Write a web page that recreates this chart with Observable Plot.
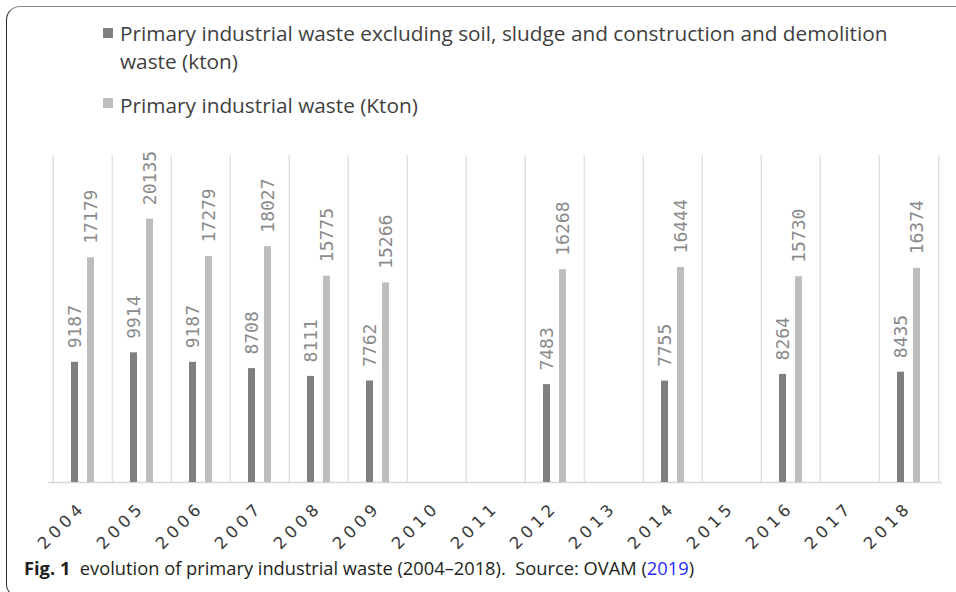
<!DOCTYPE html>
<html><head><meta charset="utf-8">
<script src="https://cdn.jsdelivr.net/npm/d3@7"></script>
<script src="https://cdn.jsdelivr.net/npm/@observablehq/plot@0.6"></script>
<style>
html,body{margin:0;padding:0;width:956px;height:592px;overflow:hidden;background:#fff;}
#frame{position:absolute;left:6px;top:6px;width:1000px;height:590px;border:1.5px solid #2a2a2a;border-top-color:#8a8a8a;border-radius:14px;}
.legend{position:absolute;font-family:"Open Sans",sans-serif;font-size:20.8px;line-height:28px;color:#3f3f3f;}
.sw{position:absolute;width:10px;height:10px;}
#chart{position:absolute;left:0;top:140px;}
#caption{position:absolute;left:24px;top:558px;font-family:"Open Sans",sans-serif;font-size:18.3px;line-height:20px;color:#231f20;white-space:nowrap;}
#caption b{font-weight:700;}
#caption .ref{color:#2a2aff;}
g[aria-label="value label"] text{letter-spacing:2.2px;}
g[aria-label="x-axis tick label"] text{letter-spacing:4.4px;}
</style></head>
<body>
<div id="frame"></div>
<div id="legend"></div>
<div id="chart"></div>
<div id="caption"><b>Fig. 1</b>&nbsp;&nbsp;evolution of primary industrial waste (2004–2018).&nbsp;&nbsp;Source: OVAM (<span class="ref">2019</span>)</div>
<script>
const years = ["2004","2005","2006","2007","2008","2009","2010","2011","2012","2013","2014","2015","2016","2017","2018"];
const excludingSoil = [9187, 9914, 9187, 8708, 8111, 7762, null, null, 7483, null, 7755, null, 8264, null, 8435];
const primaryTotal = [17179, 20135, 17279, 18027, 15775, 15266, null, null, 16268, null, 16444, null, 15730, null, 16374];
const seriesLine1 = ["Primary industrial waste excluding soil, sludge and construction and demolition", "Primary industrial waste (Kton)"];
const seriesLine2 = ["waste (kton)", null];
const seriesColors = ["#7f7f7f", "#bdbdbd"];

// legend
const legend = document.getElementById("legend");
const legendTops = [19, 91];
const swatchTops = [28, 98];
seriesLine1.forEach((name, i) => {
  const sw = document.createElement("div");
  sw.className = "sw";
  sw.style.left = "103px";
  sw.style.top = swatchTops[i] + "px";
  sw.style.background = seriesColors[i];
  legend.appendChild(sw);
  const t = document.createElement("div");
  t.className = "legend";
  t.style.left = "120px";
  t.style.top = legendTops[i] + "px";
  const l1 = document.createElement("div"); l1.textContent = name; l1.style.whiteSpace = "nowrap"; t.appendChild(l1);
  if (seriesLine2[i]) { const l2 = document.createElement("div"); l2.textContent = seriesLine2[i]; t.appendChild(l2); }
  legend.appendChild(t);
});

const toRows = (arr) => years.map((y, i) => ({year: y, value: arr[i]})).filter(d => d.value != null);
const dark = toRows(excludingSoil);
const light = toRows(primaryTotal);

const W = 956, H = 420, mL = 48, mR = 14, mT = 15, mB = 78;
const bw = (W - mL - mR) / years.length;
const off = bw * 0.131;
const grid = "#d6d6d6";
const valueFont = "'DejaVu Sans Mono', monospace";

const chart = Plot.plot({
  width: W, height: H,
  marginLeft: mL, marginRight: mR, marginTop: mT, marginBottom: mB,
  x: {domain: years, padding: 0, label: null},
  y: {domain: [0, 25000], axis: null},
  style: {background: "transparent"},
  marks: [
    Plot.ruleX(years, {x: d => d, dx: -bw / 2, y1: 0, y2: 25000, stroke: grid, strokeWidth: 1}),
    Plot.ruleX([years[years.length - 1]], {x: d => d, dx: bw / 2, y1: 0, y2: 25000, stroke: grid, strokeWidth: 1}),
    Plot.ruleY([0], {stroke: grid, strokeWidth: 1.5}),
    Plot.barY(dark, {x: "year", y: "value", fill: seriesColors[0], insetLeft: 18, insetRight: 34}),
    Plot.barY(light, {x: "year", y: "value", fill: seriesColors[1], insetLeft: 34, insetRight: 18}),
    Plot.text(dark, {x: "year", y: "value", text: d => String(d.value), rotate: -90, textAnchor: "start",
      dx: -off, dy: -14, fontSize: 18, fontFamily: valueFont, fill: "#8a8a8a", ariaLabel: "value label"}),
    Plot.text(light, {x: "year", y: "value", text: d => String(d.value), rotate: -90, textAnchor: "start",
      dx: off, dy: -14, fontSize: 18, fontFamily: valueFont, fill: "#8a8a8a", ariaLabel: "value label"}),
    Plot.axisX({tickSize: 0, tickRotate: -45, tickPadding: 22, fontSize: 16.5,
      fontFamily: "'DejaVu Sans', sans-serif", fill: "#3a3a3a", label: null})
  ]
});
document.getElementById("chart").appendChild(chart);
</script>
</body></html>
